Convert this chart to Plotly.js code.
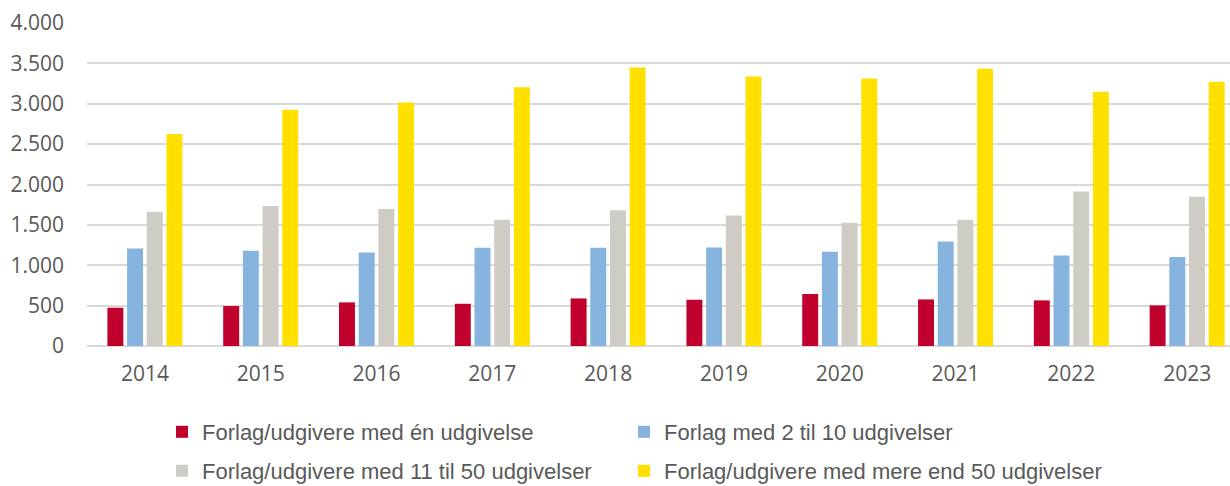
<!DOCTYPE html>
<html>
<head>
<meta charset="utf-8">
<script src="https://cdn.plot.ly/plotly-3.0.1.min.js"></script>
<style>html,body{margin:0;padding:0;background:#fff;}#chart{width:1230px;height:486px;}</style>
</head>
<body>
<div id="chart"></div>
<script>
const years = ['2014','2015','2016','2017','2018','2019','2020','2021','2022','2023'];
const seriesNames = [
  'Forlag/udgivere med én udgivelse',
  'Forlag med 2 til 10 udgivelser',
  'Forlag/udgivere med 11 til 50 udgivelser',
  'Forlag/udgivere med mere end 50 udgivelser'
];
const enUdgivelse = [474, 495, 540, 523, 589, 573, 643, 577, 565, 503];
const to_ti = [1208, 1179, 1158, 1216, 1216, 1220, 1167, 1294, 1121, 1101];
const elleve_halvtreds = [1661, 1735, 1698, 1562, 1682, 1616, 1525, 1562, 1913, 1847];
const over_halvtreds = [2626, 2927, 3017, 3203, 3450, 3339, 3314, 3434, 3149, 3273];
const colors = ['#C0002D', '#86B4DE', '#CFCCC5', '#FFE000'];
const allSeries = [enUdgivelse, to_ti, elleve_halvtreds, over_halvtreds];
const legendIds = ['legend', 'legend2', 'legend3', 'legend4'];

const traces = allSeries.map((vals, i) => ({
  type: 'bar',
  x: years,
  y: vals,
  name: seriesNames[i],
  marker: {color: colors[i]},
  legend: legendIds[i],
  hoverinfo: 'x+y+name'
}));

const font = 'Open Sans, Liberation Sans, sans-serif';
const legendFont = 'Liberation Sans, Arial, sans-serif';
const legendCommon = {
  orientation: 'h',
  xref: 'container', yref: 'container',
  xanchor: 'left', yanchor: 'middle',
  font: {family: legendFont, size: 22, color: '#595959'},
  itemwidth: 30,
  bgcolor: 'rgba(0,0,0,0)'
};

const layout = {
  width: 1230, height: 486,
  margin: {l: 87, r: 0, t: 23, b: 140},
  paper_bgcolor: '#fff', plot_bgcolor: '#fff',
  separators: ',.',
  barmode: 'group',
  bargap: 0.32,
  bargroupgap: 0.19,
  font: {family: font, color: '#595959'},
  xaxis: {
    type: 'category',
    range: [-0.5, 9.37],
    showgrid: false,
    showline: false,
    zeroline: false,
    ticks: '',
    tickfont: {family: font, size: 21, color: '#595959'},
    ticklabelstandoff: 13
  },
  yaxis: {
    range: [0, 4000],
    dtick: 500,
    tickformat: ',',
    showgrid: true,
    gridcolor: '#D9D9D9',
    gridwidth: 2,
    zeroline: true,
    zerolinecolor: '#D9D9D9',
    zerolinewidth: 2,
    showline: false,
    ticks: '',
    tickfont: {family: font, size: 21, color: '#595959'},
    ticklabelstandoff: 22
  },
  showlegend: true,
  legend: Object.assign({}, legendCommon, {x: 162/1230, y: 54/486}),
  legend2: Object.assign({}, legendCommon, {x: 624/1230, y: 54/486}),
  legend3: Object.assign({}, legendCommon, {x: 162/1230, y: 15/486}),
  legend4: Object.assign({}, legendCommon, {x: 624/1230, y: 15/486})
};

Plotly.newPlot('chart', traces, layout, {displayModeBar: false, staticPlot: true});
</script>
</body>
</html>
